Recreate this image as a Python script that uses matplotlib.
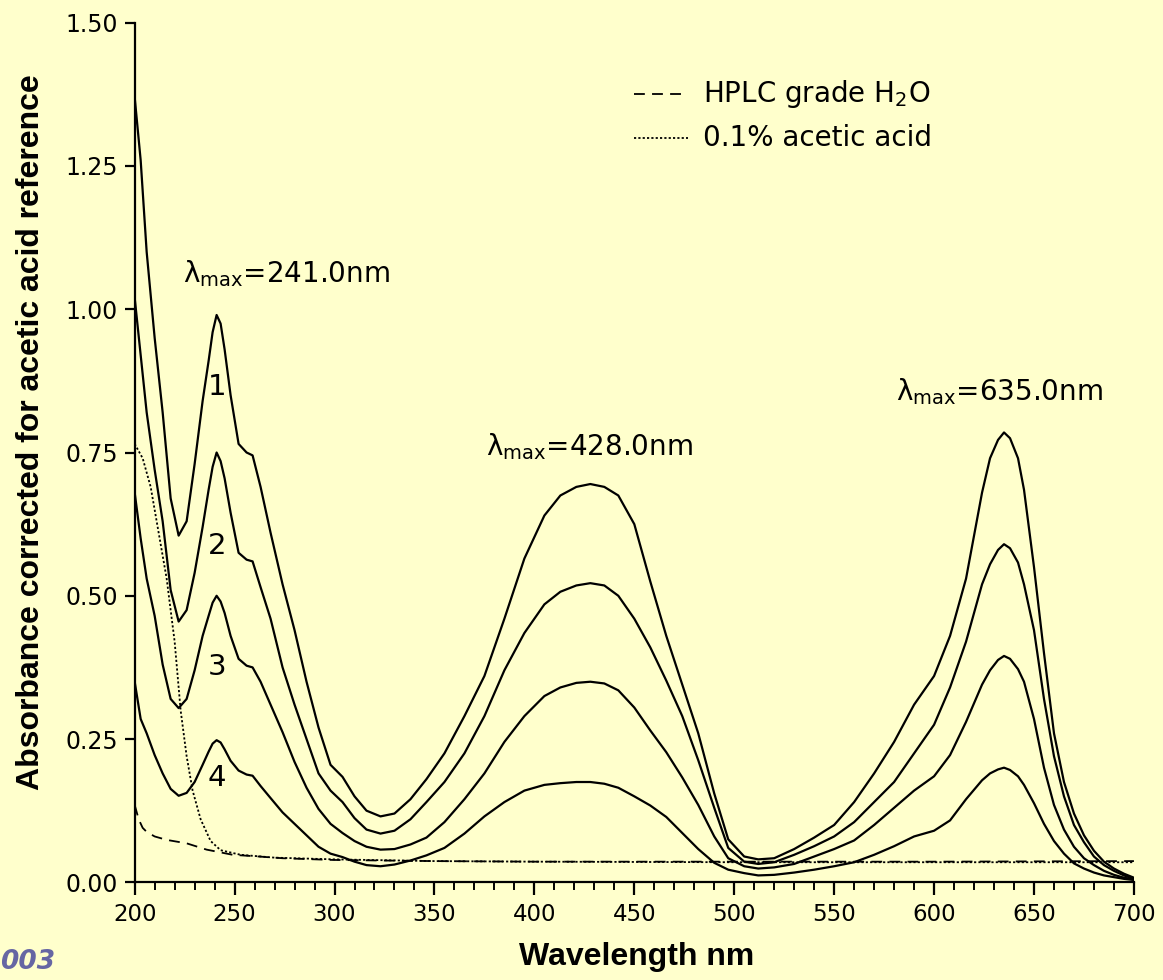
import matplotlib
matplotlib.use("Agg")
import matplotlib.pyplot as plt
from matplotlib.ticker import MultipleLocator

plt.rcParams['font.family'] = ['DejaVu Sans']

# wavelength grid (nm) shared by the four sample spectra
wl = [200, 203, 206, 210, 214, 218, 222, 226, 230, 234,
      237, 239, 241, 243, 245, 248, 252, 256, 259, 263,
      268, 274, 280, 286, 292, 298, 304, 310, 316, 323,
      330, 338, 346, 355, 365, 375, 385, 395, 405, 413,
      421, 428, 435, 442, 450, 458, 466, 474, 482, 490,
      497, 505, 512, 520, 530, 540, 550, 560, 570, 580,
      590, 600, 608, 616, 624, 628, 632, 635, 638, 642,
      645, 650, 655, 660, 665, 670, 675, 680, 685, 690,
      695, 700]

curve1 = [1.37, 1.26, 1.10, 0.95, 0.82, 0.67, 0.605, 0.63, 0.73, 0.84,
          0.91, 0.96, 0.99, 0.975, 0.93, 0.85, 0.765, 0.75, 0.745, 0.69,
          0.61, 0.52, 0.44, 0.35, 0.27, 0.205, 0.184, 0.15, 0.125, 0.115,
          0.12, 0.145, 0.18, 0.225, 0.29, 0.36, 0.46, 0.565, 0.64, 0.675,
          0.69, 0.695, 0.69, 0.675, 0.625, 0.525, 0.43, 0.345, 0.26, 0.155,
          0.075, 0.045, 0.04, 0.042, 0.058, 0.078, 0.10, 0.14, 0.19, 0.245,
          0.31, 0.36, 0.43, 0.53, 0.68, 0.74, 0.772, 0.785, 0.775, 0.74,
          0.685, 0.55, 0.40, 0.26, 0.175, 0.12, 0.082, 0.055, 0.036, 0.024,
          0.015, 0.008]

curve2 = [1.02, 0.92, 0.82, 0.72, 0.63, 0.51, 0.455, 0.475, 0.54, 0.62,
          0.685, 0.725, 0.75, 0.735, 0.705, 0.645, 0.575, 0.563, 0.56, 0.515,
          0.46, 0.375, 0.31, 0.25, 0.19, 0.16, 0.14, 0.112, 0.092, 0.085,
          0.09, 0.11, 0.14, 0.175, 0.225, 0.29, 0.37, 0.435, 0.485, 0.507,
          0.518, 0.522, 0.518, 0.50, 0.46, 0.41, 0.352, 0.29, 0.213, 0.13,
          0.06, 0.036, 0.032, 0.035, 0.048, 0.063, 0.08, 0.105, 0.14, 0.175,
          0.225, 0.275, 0.34, 0.42, 0.52, 0.555, 0.58, 0.59, 0.583, 0.558,
          0.52, 0.44, 0.32, 0.22, 0.15, 0.10, 0.07, 0.045, 0.03, 0.02,
          0.012, 0.006]

curve3 = [0.68, 0.60, 0.53, 0.465, 0.38, 0.32, 0.304, 0.32, 0.37, 0.43,
          0.465, 0.488, 0.50, 0.49, 0.47, 0.43, 0.39, 0.378, 0.375, 0.35,
          0.31, 0.262, 0.21, 0.165, 0.128, 0.102, 0.086, 0.072, 0.062, 0.057,
          0.058, 0.066, 0.078, 0.105, 0.145, 0.19, 0.245, 0.29, 0.325, 0.34,
          0.348, 0.35, 0.347, 0.335, 0.305, 0.265, 0.227, 0.183, 0.135, 0.08,
          0.042, 0.028, 0.024, 0.026, 0.032, 0.045, 0.058, 0.073, 0.10, 0.13,
          0.16, 0.185, 0.222, 0.28, 0.345, 0.37, 0.388, 0.395, 0.39, 0.372,
          0.35, 0.285, 0.20, 0.135, 0.092, 0.062, 0.042, 0.03, 0.02, 0.013,
          0.008, 0.005]

curve4 = [0.35, 0.285, 0.26, 0.222, 0.19, 0.163, 0.151, 0.156, 0.175, 0.205,
          0.228, 0.242, 0.248, 0.244, 0.232, 0.212, 0.195, 0.188, 0.186, 0.168,
          0.147, 0.122, 0.102, 0.082, 0.062, 0.05, 0.044, 0.036, 0.03, 0.028,
          0.031, 0.038, 0.047, 0.06, 0.085, 0.115, 0.14, 0.16, 0.17, 0.173,
          0.175, 0.175, 0.172, 0.165, 0.15, 0.134, 0.114, 0.086, 0.058, 0.034,
          0.022, 0.016, 0.012, 0.013, 0.017, 0.022, 0.028, 0.035, 0.048, 0.063,
          0.08, 0.09, 0.108, 0.145, 0.178, 0.19, 0.197, 0.20, 0.196, 0.185,
          0.17, 0.138, 0.102, 0.072, 0.05, 0.033, 0.024, 0.017, 0.012, 0.009,
          0.006, 0.004]

# blanks
h2o_wl = [200, 202, 204, 206, 210, 216, 226, 236, 249, 262, 274, 299, 350,
          400, 500, 600, 700]
h2o = [0.135, 0.11, 0.095, 0.088, 0.08, 0.074, 0.068, 0.057, 0.048, 0.045,
       0.042, 0.039, 0.037, 0.036, 0.036, 0.036, 0.037]

acid_wl = [200, 204, 208, 212, 216, 220, 223, 226, 229, 233, 238, 243, 253,
           270, 300, 350, 400, 500, 600, 700]
acid = [0.765, 0.74, 0.69, 0.61, 0.53, 0.42, 0.30, 0.22, 0.16, 0.11, 0.072,
        0.056, 0.048, 0.043, 0.04, 0.037, 0.036, 0.035, 0.035, 0.035]

bg = '#FFFFCC'
fig = plt.figure(figsize=(11.63, 9.8), dpi=100, facecolor=bg)
ax = fig.add_axes([0.1158, 0.0997, 0.8592, 0.8771], facecolor=bg)

for y in (curve1, curve2, curve3, curve4):
    ax.plot(wl, y, color='black', lw=1.6)
ax.plot(h2o_wl, h2o, color='black', lw=1.3, linestyle=(0, (6, 4)))
ax.plot(acid_wl, acid, color='black', lw=1.3, linestyle=(0, (1.2, 1.2)))

ax.set_xlim(200, 700)
ax.set_ylim(0, 1.5)
ax.spines['top'].set_visible(False)
ax.spines['right'].set_visible(False)
ax.spines['left'].set_linewidth(1.6)
ax.spines['bottom'].set_linewidth(1.6)

ax.xaxis.set_major_locator(MultipleLocator(50))
ax.xaxis.set_minor_locator(MultipleLocator(10))
ax.yaxis.set_major_locator(MultipleLocator(0.25))
ax.yaxis.set_major_formatter(plt.FormatStrFormatter('%.2f'))
ax.tick_params(axis='x', which='major', length=9, width=1.6, pad=6,
               labelsize=16.5)
ax.tick_params(axis='x', which='minor', length=5.5, width=1.4)
ax.tick_params(axis='y', which='major', length=7, width=1.6, pad=5,
               labelsize=17)

ax.set_xlabel('Wavelength nm', fontsize=23, fontweight='bold',
              family='Liberation Sans')
ax.xaxis.set_label_coords(0.502, -0.0695)
ax.set_ylabel('Absorbance corrected for acetic acid reference', fontsize=23,
              fontweight='bold', family='Liberation Sans')
ax.yaxis.set_label_coords(-0.089, 0.524)

# peak annotations
ax.text(224.2, 1.048, 'λ$_{\\mathrm{max}}$=241.0nm', fontsize=20,
        ha='left', va='baseline')
ax.text(376, 0.746, 'λ$_{\\mathrm{max}}$=428.0nm', fontsize=20,
        ha='left', va='baseline')
ax.text(581, 0.842, 'λ$_{\\mathrm{max}}$=635.0nm', fontsize=20,
        ha='left', va='baseline')

# curve numbers
for num, yv in zip(['1', '2', '3', '4'], [0.865, 0.586, 0.376, 0.182]):
    ax.text(241.3, yv, num, fontsize=21, ha='center', va='center')

# legend drawn by hand
ax.plot([450, 477], [1.376, 1.376], color='black', lw=1.3,
        linestyle=(0, (6, 4)))
ax.plot([450, 477], [1.299, 1.299], color='black', lw=1.3,
        linestyle=(0, (1.2, 1.2)))
ax.text(484.5, 1.376, 'HPLC grade H$_{2}$O', fontsize=20, va='center')
ax.text(484.5, 1.299, '0.1% acetic acid', fontsize=20, va='center')

fig.text(0.0, 0.0187, '003', fontsize=19, color='#6666A3',
         fontstyle='italic', fontweight='bold', ha='left', va='center')

fig.savefig('out.png', dpi=100, facecolor=bg)
